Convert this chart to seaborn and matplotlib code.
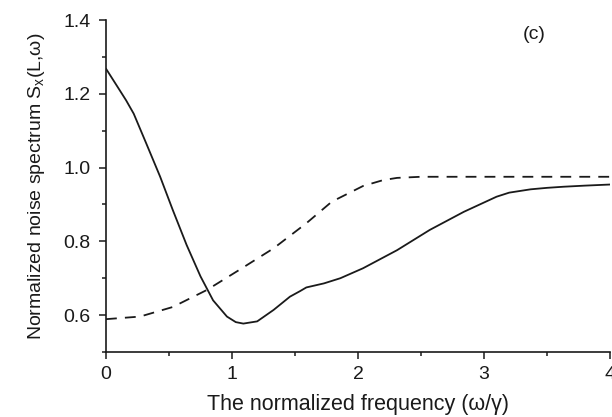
import numpy as np
import pandas as pd
import matplotlib
matplotlib.use("Agg")
import matplotlib.pyplot as plt
import seaborn as sns
from matplotlib.ticker import MultipleLocator

# -----------------------------
# Values
# -----------------------------
solid_x = [0.00, 0.11, 0.16, 0.22, 0.32, 0.43, 0.53, 0.64, 0.75, 0.85,
           0.96, 1.03, 1.09, 1.20, 1.33, 1.46, 1.54, 1.59, 1.73, 1.86,
           2.04, 2.31, 2.57, 2.84, 3.10, 3.20, 3.37, 3.50, 3.63, 3.80, 4.00]
solid_y = [1.268, 1.209, 1.182, 1.146, 1.065, 0.975, 0.885, 0.790, 0.705,
           0.640, 0.596, 0.581, 0.577, 0.583, 0.614, 0.650, 0.665, 0.675,
           0.686, 0.700, 0.727, 0.776, 0.831, 0.880, 0.921, 0.932, 0.941,
           0.945, 0.948, 0.951, 0.954]

dash_x = [0.00, 0.27, 0.53, 0.80, 1.06, 1.33, 1.59, 1.78, 1.83, 2.04,
          2.20, 2.31, 2.50, 3.00, 3.50, 4.00]
dash_y = [0.589, 0.596, 0.622, 0.668, 0.723, 0.781, 0.849, 0.904, 0.914,
          0.950, 0.966, 0.972, 0.975, 0.975, 0.975, 0.975]

x_ticks = [0, 1, 2, 3, 4]
y_ticks = [0.6, 0.8, 1.0, 1.2, 1.4]

solid = pd.DataFrame({"w": solid_x, "S": solid_y})
dashed = pd.DataFrame({"w": dash_x, "S": dash_y})

# -----------------------------
# Plot
# -----------------------------
sns.set_style("ticks")
plt.rcParams["font.family"] = ["Liberation Sans", "DejaVu Sans"]
plt.rcParams["mathtext.fontset"] = "custom"
plt.rcParams["mathtext.rm"] = "Liberation Sans"
plt.rcParams["mathtext.it"] = "Liberation Sans"

ink = "#1a1a1a"
fig = plt.figure(figsize=(6.12, 4.17), dpi=100)
ax = fig.add_axes([0.1732, 0.1559, 0.8235, 0.7961])

sns.lineplot(data=solid, x="w", y="S", color=ink, linewidth=1.3,
             sort=False, ax=ax)
sns.lineplot(data=dashed, x="w", y="S", color=ink, linewidth=1.3,
             sort=False, ax=ax)
ax.lines[-1].set_dashes([6, 4.5])
for ln in ax.lines:
    ln.set_solid_joinstyle("round")
    ln.set_dash_joinstyle("round")

ax.set_xlim(0, 4)
ax.set_ylim(0.5, 1.4)
ax.set_xticks(x_ticks)
ax.set_xticklabels([str(t) for t in x_ticks])
ax.set_yticks(y_ticks)
ax.set_yticklabels([f"{t:.1f}" for t in y_ticks])
ax.xaxis.set_minor_locator(MultipleLocator(0.5))
ax.yaxis.set_minor_locator(MultipleLocator(0.1))

sns.despine(ax=ax)
for s in ("left", "bottom"):
    ax.spines[s].set_linewidth(1.2)
    ax.spines[s].set_color(ink)
ax.tick_params(which="major", length=5, width=1.1, labelsize=14,
               colors=ink, direction="out")
ax.tick_params(which="minor", length=3, width=1.1, colors=ink,
               direction="out")
ax.tick_params(axis="x", pad=5)
ax.tick_params(axis="y", pad=6)

ax.set_xlabel("The normalized frequency (ω/γ)", fontsize=15.5,
              color=ink, labelpad=8)
ax.set_ylabel(r"Normalized noise spectrum S$_{\mathrm{x}}$(L,ω)", fontsize=14,
              color=ink, labelpad=12)
ax.text(3.40, 1.36, "(c)", fontsize=14, color=ink,
        ha="center", va="center")

fig.savefig("out.png", dpi=100)
